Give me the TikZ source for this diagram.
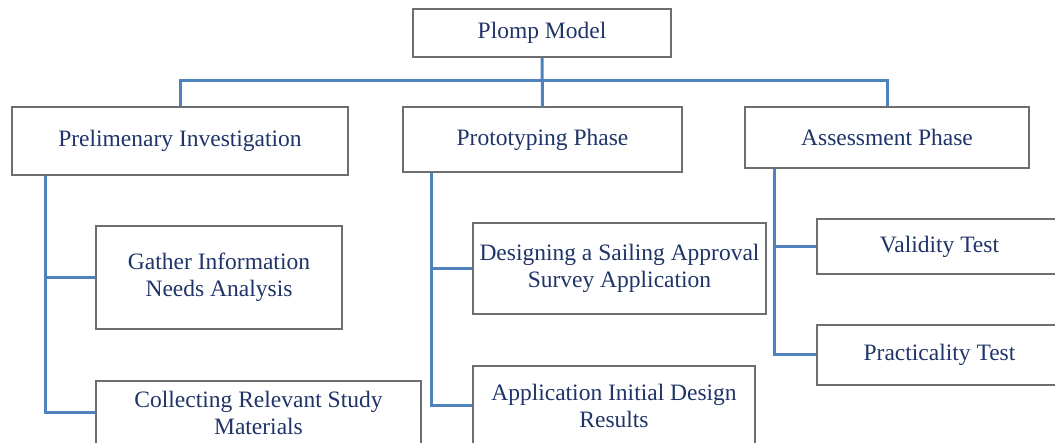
\documentclass[tikz,border=0pt]{standalone}
\usepackage{fontspec}
\setmainfont{Liberation Serif}
\definecolor{navy}{HTML}{1F3468}
\definecolor{linkblue}{HTML}{4F81BD}
\definecolor{boxgrey}{HTML}{6E6E6E}
\begin{document}
\begin{tikzpicture}[x=1pt,y=-1pt,
  box/.style={draw=boxgrey, line width=1.3pt, fill=white, text=navy,
    align=center, inner sep=0pt, font=\fontsize{23.5}{27}\selectfont},
  link/.style={draw=linkblue, line width=3pt}]
\useasboundingbox (0,0) rectangle (1055,443);
\clip (0,0) rectangle (1055,443);

% top level
\node[box, minimum width=258, minimum height=48] (root) at (542,33) {Plomp Model};

% phases
\node[box, minimum width=336, minimum height=68] (prelim) at (180,141) {Prelimenary Investigation};
\node[box, minimum width=279, minimum height=65] (proto) at (542.5,139.5) {Prototyping Phase};
\node[box, minimum width=284, minimum height=61] (assess) at (887,137.5) {Assessment Phase};

% steps of each phase
\node[box, minimum width=246, minimum height=103] (gather) at (219,277.5) {Gather Information\\Needs Analysis};
\node[box, minimum width=325, minimum height=64] (collect) at (258.5,413) {Collecting Relevant Study\\Materials};
\node[box, minimum width=293, minimum height=91] (design) at (619.5,268.5) {Designing a Sailing Approval\\Survey Application};
\node[box, minimum width=282, minimum height=79] (initial) at (614,405.5) {Application Initial Design\\Results};
\node[box, minimum width=245, minimum height=55] (valid) at (939.5,246.5) {Validity Test};
\node[box, minimum width=245, minimum height=60] (pract) at (939.5,355) {Practicality Test};

% connectors
\coordinate (bus) at (542,81);
\draw[link] (root.south) -- (proto.north);
\draw[link] (prelim.north) |- (bus) -| (assess.north);

\draw[link] ([xshift=34pt]prelim.south west) |- (gather.west);
\draw[link] ([xshift=34pt]prelim.south west) |- (collect.west);
\draw[link] ([xshift=29pt]proto.south west) |- (design.west);
\draw[link] ([xshift=29pt]proto.south west) |- (initial.west);
\draw[link] ([xshift=30pt]assess.south west) |- (valid.west);
\draw[link] ([xshift=30pt]assess.south west) |- (pract.west);
\end{tikzpicture}
\end{document}
